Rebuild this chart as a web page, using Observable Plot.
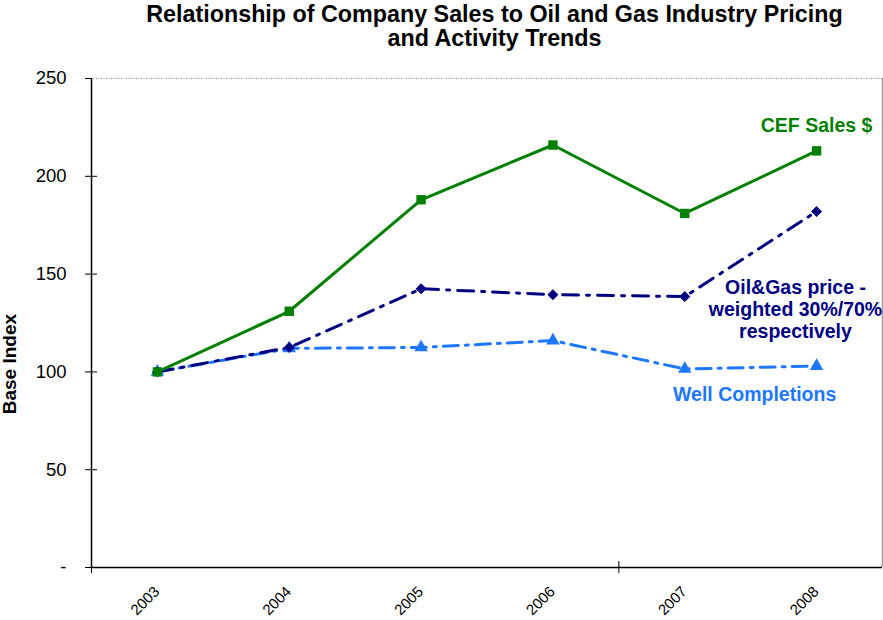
<!DOCTYPE html>
<html>
<head>
<meta charset="utf-8">
<script src="https://cdn.jsdelivr.net/npm/d3@7"></script>
<script src="https://cdn.jsdelivr.net/npm/@observablehq/plot@0.6"></script>
<style>
  html, body { margin: 0; padding: 0; background: #fff; }
  #chart svg { display: block; }
</style>
</head>
<body>
<div id="chart"></div>
<script>
// ---- data ----
const years = ["2003", "2004", "2005", "2006", "2007", "2008"];
const cefSales = [100, 131, 188, 216, 181, 213];
const oilGasPrice = [100, 112.5, 142.5, 139.5, 138.5, 182];
const wellCompletions = [100, 112, 112.5, 116, 101.5, 103];
const yTicks = [0, 50, 100, 150, 200, 250];
const yTickLabels = ["-", "50", "100", "150", "200", "250"];

const titleLine1 = "Relationship of Company Sales to Oil and Gas Industry Pricing";
const titleLine2 = "and Activity Trends";
const yLabel = "Base Index";

const rows = (vals) => vals.map((v, i) => ({i, v}));
const cef = rows(cefSales);
const oil = rows(oilGasPrice);
const well = rows(wellCompletions);

const font = "'Liberation Sans', Arial, sans-serif";
const green = "#008000";
const navy = "#000080";
const blue = "#1e78ff";

const chart = Plot.plot({
  width: 883,
  height: 620,
  marginLeft: 91,
  marginRight: 1,
  marginTop: 78,
  marginBottom: 53,
  style: {fontFamily: font, background: "#fff", color: "#000", overflow: "visible"},
  x: {type: "linear", domain: [-0.5, 5.5]},
  y: {domain: [0, 250]},
  marks: [
    // frame: top dotted, right border
    Plot.ruleY([250], {stroke: "#888", strokeDasharray: "1,1.5", strokeWidth: 1}),
    Plot.ruleX([5.5], {stroke: "#999", strokeWidth: 1.5}),
    // y axis
    Plot.axisY({ticks: yTicks, tickFormat: d => yTickLabels[yTicks.indexOf(d)], tickSize: 6, tickPadding: 19, fontSize: 18.5, label: null, stroke: "#000", strokeOpacity: 1}),
    Plot.axisY({ticks: yTicks.slice(1, -1), tickFormat: () => "", tickSize: -6, label: null, strokeOpacity: 1}),
    // x axis ticks (Excel-style boundary tick)
    Plot.axisX({ticks: [-0.5, 3.5], tickFormat: () => "", tickSize: 6, label: null, strokeOpacity: 1}),
    Plot.axisX({ticks: [3.5], tickFormat: () => "", tickSize: -6, label: null, strokeOpacity: 1}),
    Plot.ruleX([-0.5], {stroke: "#000", strokeWidth: 1.5}),
    Plot.ruleY([0], {stroke: "#000", strokeWidth: 1.5}),
    // x tick labels
    Plot.text(years, {x: (d, i) => i, text: d => d, frameAnchor: "bottom", rotate: -45, textAnchor: "end", dx: 3, dy: 25, fontSize: 15, fill: "#000"}),
    // series
    Plot.line(well, {x: "i", y: "v", stroke: blue, strokeWidth: 3, strokeDasharray: "15,7,3,7"}),
    Plot.dot(well, {x: "i", y: "v", symbol: "triangle", r: 5, fill: blue}),
    Plot.line(oil, {x: "i", y: "v", stroke: navy, strokeWidth: 3, strokeDasharray: "16,8,3,8"}),
    Plot.dot(oil, {x: "i", y: "v", symbol: "diamond2", r: 4.5, fill: navy, stroke: navy, strokeWidth: 1}),
    Plot.line(cef, {x: "i", y: "v", stroke: green, strokeWidth: 3}),
    Plot.dot(cef, {x: "i", y: "v", symbol: "square", r: 5.3, fill: green}),
    // series labels
    Plot.text(["CEF Sales $"], {x: 5, y: 226, text: d => d, fill: green, fontSize: 19.5, fontWeight: "bold"}),
    Plot.text(["Oil&Gas price -\nweighted 30%/70%\nrespectively"], {x: 4.84, y: 132, text: d => d, fill: navy, fontSize: 19.5, fontWeight: "bold", lineHeight: 1.13}),
    Plot.text(["Well Completions"], {x: 4.53, y: 88.5, text: d => d, fill: blue, fontSize: 19.5, fontWeight: "bold"}),
    // titles
    Plot.text([titleLine1], {frameAnchor: "top", text: d => d, lineAnchor: "bottom", dx: 7.5, dy: -57, fontSize: 23.3, fontWeight: "bold", fill: "#000"}),
    Plot.text([titleLine2], {frameAnchor: "top", text: d => d, lineAnchor: "bottom", dx: 7.5, dy: -33, fontSize: 23.3, fontWeight: "bold", fill: "#000"}),
    Plot.text([yLabel], {x: -0.5, y: 104, text: d => d, rotate: -90, dx: -82, fontSize: 19, fontWeight: "bold", fill: "#000"})
  ]
});
document.getElementById("chart").appendChild(chart);
</script>
</body>
</html>
